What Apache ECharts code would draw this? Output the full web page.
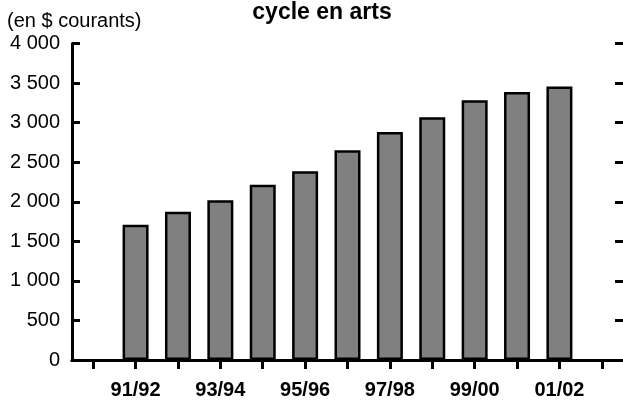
<!DOCTYPE html>
<html>
<head>
<meta charset="utf-8">
<script src="https://cdn.jsdelivr.net/npm/echarts@6/dist/echarts.min.js"></script>
<style>
html,body{margin:0;padding:0;background:#fff;}
#chart{width:623px;height:400px;}
</style>
</head>
<body>
<div id="chart"></div>
<script>
// Data
const categories = ['', '91/92', '92/93', '93/94', '94/95', '95/96', '96/97', '97/98', '98/99', '99/00', '00/01', '01/02', ''];
const values = [null, 1710, 1873, 2020, 2216, 2384, 2651, 2881, 3069, 3282, 3388, 3458, null];
const titleText = 'cycle en arts';
const unitText = '(en $ courants)';
const yMin = 0, yMax = 4000, yStep = 500;

const FONT = '"Liberation Sans", Arial, Helvetica, sans-serif';
const chart = echarts.init(document.getElementById('chart'), null, {renderer: 'canvas'});

function fmt(v) {
  return String(v).replace(/\B(?=(\d{3})+(?!\d))/g, ' ');
}

chart.setOption({
  animation: false,
  backgroundColor: '#fff',
  grid: {left: 72, right: 0, top: 43.5, bottom: 37.7, containLabel: false},
  graphic: [
    {type: 'text', x: 322, y: 13, style: {text: titleText, fill: '#000', font: 'bold 23px ' + FONT, textAlign: 'center', textVerticalAlign: 'middle'}},
    {type: 'text', x: 7, y: 21, style: {text: unitText, fill: '#000', font: '20px ' + FONT, textAlign: 'left', textVerticalAlign: 'middle'}}
  ],
  xAxis: [
    {
      type: 'category', data: categories, position: 'bottom',
      axisLine: {lineStyle: {color: '#000', width: 3}},
      axisTick: {show: true, alignWithLabel: true, interval: 0, inside: false, length: 9, lineStyle: {color: '#000', width: 3}},
      axisLabel: {interval: function (i) { return i % 2 === 1; }, color: '#000', fontFamily: FONT, fontWeight: 'bold', fontSize: 20, margin: 20},
      splitLine: {show: false}
    },
    {
      type: 'category', data: categories, position: 'top',
      axisLine: {lineStyle: {color: '#000', width: 3}},
      axisTick: {show: false}, axisLabel: {show: false}, splitLine: {show: false}
    }
  ],
  yAxis: [
    {
      type: 'value', min: yMin, max: yMax, interval: yStep, position: 'left',
      axisLine: {show: true, lineStyle: {color: '#000', width: 3}},
      axisTick: {show: true, inside: true, length: 8, lineStyle: {color: '#000', width: 3}},
      axisLabel: {formatter: fmt, color: '#000', fontFamily: FONT, fontSize: 20, margin: 12},
      splitLine: {show: false}
    },
    {
      type: 'value', min: yMin, max: yMax, interval: yStep, position: 'right',
      axisLine: {show: false},
      axisTick: {show: true, inside: true, length: 8, lineStyle: {color: '#000', width: 3}},
      axisLabel: {show: false},
      splitLine: {show: false}
    }
  ],
  series: [{
    type: 'bar', data: values, xAxisIndex: 0, yAxisIndex: 0,
    barWidth: 26,
    itemStyle: {color: '#808080', borderColor: '#000', borderWidth: 2.5}
  }]
});
</script>
</body>
</html>
